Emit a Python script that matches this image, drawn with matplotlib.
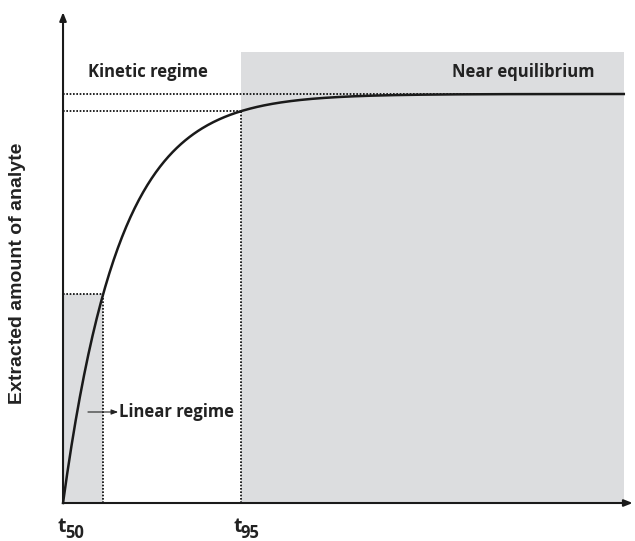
import numpy as np
import matplotlib
matplotlib.use('Agg')
import matplotlib.pyplot as plt
from matplotlib.patches import Rectangle

# model: extracted amount = 1 - exp(-K * t), time in units of t95
K = 3.17
T_LIN = 0.225          # end of linear regime
T_95 = 1.0             # near-equilibrium starts
T_END = 3.15           # end of shaded equilibrium band
SHADE_TOP = 1.103
LEVEL_LIN = 1 - np.exp(-K * T_LIN)
LEVEL_95 = 1 - np.exp(-K * T_95)
LEVEL_EQ = 1.0

GRAY = '#dcdddf'
LABEL_FONT = ['Open Sans', 'DejaVu Sans']

fig = plt.figure(figsize=(6.35, 5.41), dpi=100)
ax = fig.add_axes([0, 0, 1, 1])
ax.set_xlim(-0.354, 3.213)
ax.set_ylim(-0.0929, 1.2298)
ax.axis('off')

# shaded regions
ax.add_patch(Rectangle((T_95, 0), T_END - T_95, SHADE_TOP, facecolor=GRAY,
                       edgecolor='none', zorder=0))
ax.add_patch(Rectangle((0, 0), T_LIN, LEVEL_LIN, facecolor=GRAY,
                       edgecolor='none', zorder=0))

# dotted guide lines
dot = dict(color='black', linestyle=(0, (1, 1)), linewidth=1.2, zorder=2)
ax.plot([0, T_END], [LEVEL_EQ, LEVEL_EQ], **dot)
ax.plot([0, T_95], [LEVEL_95, LEVEL_95], **dot)
ax.plot([T_95, T_95], [0, LEVEL_95], **dot)
ax.plot([0, T_LIN], [LEVEL_LIN, LEVEL_LIN], **dot)
ax.plot([T_LIN, T_LIN], [0, LEVEL_LIN], **dot)

# extraction curve
t = np.linspace(0, T_END, 400)
ax.plot(t, 1 - np.exp(-K * t), color='#1a1a1a', linewidth=1.8, zorder=3)

# axes with arrows
arrow = dict(arrowstyle='-|>,head_length=0.5,head_width=0.2', color='#1a1a1a',
             linewidth=1.5, shrinkA=0, shrinkB=0)
ax.annotate('', xy=(3.2, 0), xytext=(0, 0), arrowprops=arrow, zorder=4)
ax.annotate('', xy=(0, 1.2), xytext=(0, 0), arrowprops=arrow, zorder=4)

# labels
ax.text(0.475, 1.054, 'Kinetic regime', ha='center', va='center',
        fontsize=12, fontweight='bold', family=LABEL_FONT, color='#222222')
ax.text(2.584, 1.054, 'Near equilibrium', ha='center', va='center',
        fontsize=12, fontweight='bold', family=LABEL_FONT, color='#222222')
ax.annotate('', xy=(0.31, 0.2225), xytext=(0.14, 0.2225),
            arrowprops=dict(arrowstyle='-|>,head_length=0.4,head_width=0.15',
                            color='#222222', linewidth=0.8, shrinkA=0, shrinkB=0))
ax.text(0.315, 0.2225, 'Linear regime', ha='left', va='center',
        fontsize=12, fontweight='bold', family=LABEL_FONT, color='#222222')

ax.text(-0.258, 0.562, 'Extracted amount of analyte', rotation=90, ha='center',
        va='center', fontsize=14, fontweight='bold', family='Liberation Sans',
        color='#222222')

for x0, sub in [(-0.03, '50'), (0.955, '95')]:
    ax.text(x0, -0.072, 't', ha='left', va='baseline', fontsize=14,
            fontweight='bold', family=LABEL_FONT, color='#222222')
    ax.text(x0 + 0.04, -0.086, sub, ha='left', va='baseline', fontsize=12,
            fontweight='bold', family=LABEL_FONT, color='#222222')

fig.savefig('out.png', dpi=100)
